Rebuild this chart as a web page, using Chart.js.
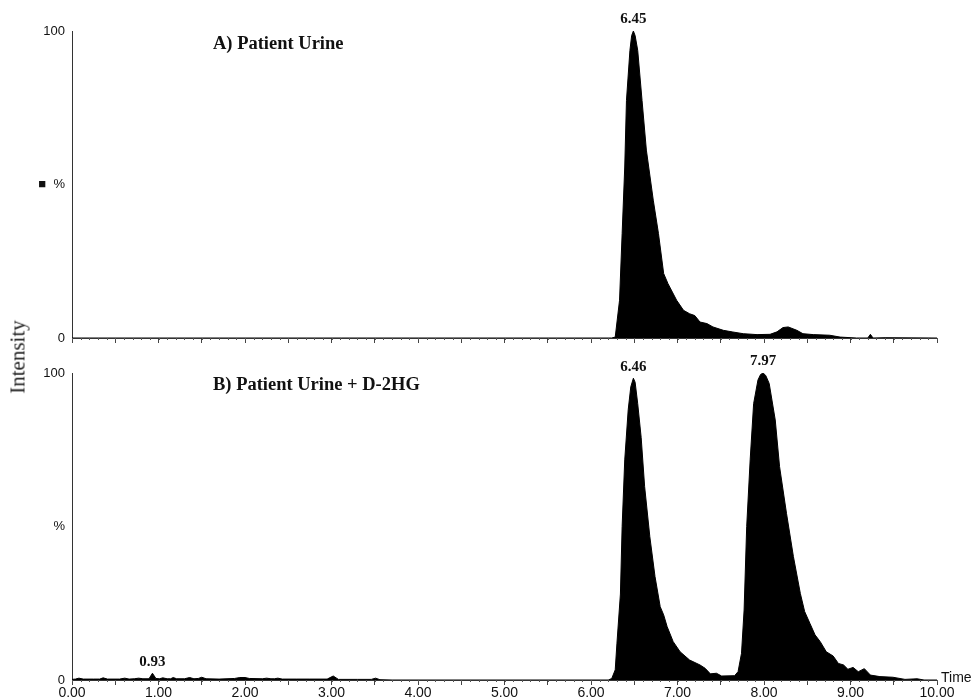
<!DOCTYPE html>
<html><head><meta charset="utf-8">
<script src="https://cdn.jsdelivr.net/npm/chart.js@4"></script>
<style>
html,body{margin:0;padding:0;background:#fff;}
#wrap{position:relative;width:975px;height:698px;overflow:hidden;background:#fff;}
canvas{position:absolute;left:0;}
#ylab{position:absolute;left:18px;top:357px;transform:translate(-50%,-50%) rotate(-90deg);font-family:"Liberation Serif","Times New Roman",serif;font-size:21px;color:#222;white-space:nowrap;}
</style></head>
<body><div id="wrap">
<canvas id="cA" width="975" height="355" style="top:0"></canvas>
<canvas id="cB" width="975" height="343" style="top:355px"></canvas>
<div id="ylab">Intensity</div>
</div>
<script>
// ---- data ----
const TITLE_A = 'A) Patient Urine';
const TITLE_B = 'B) Patient Urine + D-2HG';
const X_LABEL = 'Time';
const Y_TICKS = [0, 50, 100];
const Y_LABELS_A = ['0', '\u25A0  %', '100'];
const Y_LABELS_B = ['0', '%', '100'];
const PEAK_LABELS_A = ['6.45'];
const PEAK_LABELS_B = ['0.93', '6.46', '7.97'];

const TIME_A = [0.00, 6.24, 6.28, 6.33, 6.36, 6.39, 6.41, 6.45, 6.47, 6.49,
  6.51, 6.54, 6.59, 6.64, 6.72, 6.78, 6.84, 6.89, 6.99, 7.07,
  7.14, 7.20, 7.26, 7.34, 7.41, 7.53, 7.64, 7.76, 7.92, 8.07,
  8.15, 8.22, 8.28, 8.38, 8.45, 8.57, 8.76, 8.88, 9.07, 9.20,
  9.23, 9.26, 9.40, 10.00];
const INT_A = [0, 0, 0.3, 12.3, 34, 55.7, 77.4, 93.7, 98.5, 100,
  98.5, 93.7, 77.4, 61.2, 44.9, 34, 21, 17.7, 12.3, 9,
  7.9, 7.3, 5.2, 4.7, 3.6, 2.5, 1.95, 1.4, 1.1, 1.2,
  2, 3.4, 3.6, 2.5, 1.4, 1.1, 0.9, 0.3, 0, 0,
  1.2, 0, 0.1, 0];

const TIME_B = [0.00, 0.04, 0.08, 0.13, 0.25, 0.32, 0.36, 0.41, 0.55, 0.61,
  0.66, 0.72, 0.77, 0.82, 0.89, 0.93, 0.97, 1.01, 1.05, 1.10,
  1.14, 1.17, 1.21, 1.30, 1.36, 1.41, 1.46, 1.50, 1.55, 1.70,
  1.88, 1.94, 2.00, 2.05, 2.20, 2.25, 2.30, 2.34, 2.38, 2.43,
  2.60, 2.75, 2.95, 3.02, 3.08, 3.30, 3.46, 3.51, 3.56, 3.70,
  6.20, 6.24, 6.28, 6.30, 6.34, 6.36, 6.39, 6.43, 6.46, 6.49,
  6.51, 6.54, 6.58, 6.62, 6.68, 6.74, 6.80, 6.84, 6.88, 6.95,
  7.03, 7.14, 7.26, 7.32, 7.38, 7.45, 7.51, 7.66, 7.70, 7.74,
  7.77, 7.80, 7.84, 7.88, 7.93, 7.96, 7.99, 8.02, 8.06, 8.13,
  8.18, 8.26, 8.34, 8.42, 8.47, 8.53, 8.59, 8.65, 8.72, 8.80,
  8.86, 8.92, 8.97, 9.03, 9.09, 9.16, 9.23, 9.34, 9.49, 9.63,
  9.77, 9.85, 10.00];
const INT_B = [0.2, 0.3, 0.6, 0.3, 0.3, 0.3, 0.7, 0.3, 0.3, 0.6,
  0.3, 0.4, 0.6, 0.4, 0.4, 2.2, 0.5, 0.4, 0.7, 0.4,
  0.4, 0.8, 0.4, 0.4, 0.8, 0.4, 0.5, 0.9, 0.4, 0.3,
  0.5, 0.8, 0.8, 0.5, 0.4, 0.6, 0.4, 0.4, 0.6, 0.3,
  0.3, 0.3, 0.3, 1.3, 0.2, 0.2, 0.2, 0.6, 0.1, 0,
  0, 0.5, 3.3, 12, 28, 50, 71.7, 88, 95.5, 98.3,
  97, 90, 79, 63, 46.7, 33.7, 23.9, 21.2, 17.4, 12.5,
  9.2, 6.5, 4.9, 3.8, 2.0, 2.2, 1.3, 1.4, 2.7, 8.7,
  22.8, 50, 71.7, 90, 97.7, 99.5, 100, 99.2, 96.6, 84.7,
  69.5, 54.3, 40.2, 28.2, 22.3, 18.5, 14.7, 12.5, 9.2, 7.8,
  5.4, 4.9, 3.5, 4.1, 2.7, 3.7, 1.6, 1.1, 0.9, 0.2,
  0.4, 0, 0];

// ---- chart building ----
const SANS = '"Liberation Sans", Arial, sans-serif';
const SERIF = '"Liberation Serif", "Times New Roman", serif';

function pts(t, v) { return t.map((x, i) => ({x: x, y: v[i]})); }

function overlayPlugin(title, titleY, peaks, showTime) {
  return {
    id: 'overlay',
    afterDraw(chart) {
      const ctx = chart.ctx, xs = chart.scales.x, ys = chart.scales.y, ca = chart.chartArea;
      ctx.save();
      // minor ticks every 0.1
      ctx.strokeStyle = '#555'; ctx.lineWidth = 1;
      for (let k = 0; k <= 100; k++) {
        const px = Math.round(xs.getPixelForValue(k / 10)) + 0.5;
        ctx.beginPath(); ctx.moveTo(px, ca.bottom); ctx.lineTo(px, ca.bottom + 2); ctx.stroke();
      }
      // panel title
      ctx.fillStyle = '#111';
      ctx.font = 'bold 18.5px ' + SERIF;
      ctx.textAlign = 'left'; ctx.textBaseline = 'middle';
      ctx.fillText(title, ca.left + 141, titleY);
      // peak labels, positioned on data maxima
      const data = chart.data.datasets[0].data;
      ctx.font = 'bold 15px ' + SERIF;
      ctx.textAlign = 'center'; ctx.textBaseline = 'bottom';
      peaks.forEach(lbl => {
        const t = parseFloat(lbl);
        let best = null;
        data.forEach(p => { if (Math.abs(p.x - t) <= 0.1 && (!best || p.y > best.y)) best = p; });
        if (best) ctx.fillText(lbl, xs.getPixelForValue(best.x), ys.getPixelForValue(best.y) - 4);
      });
      if (showTime) {
        ctx.font = '14px ' + SANS;
        ctx.textAlign = 'left'; ctx.textBaseline = 'middle';
        ctx.fillText(X_LABEL, ca.right + 4, ca.bottom - 2);
      }
      ctx.restore();
    }
  };
}

function makeChart(id, t, v, yLabels, title, titleY, peaks, showXLabels, padTop, xAxisH) {
  return new Chart(document.getElementById(id), {
    type: 'line',
    data: { datasets: [{
      data: pts(t, v),
      borderColor: '#000', borderWidth: 1,
      backgroundColor: '#000', fill: 'origin',
      pointRadius: 0, tension: 0
    }]},
    options: {
      responsive: false, animation: false,
      layout: { padding: { top: padTop, right: 38, left: 0, bottom: 0 } },
      plugins: { legend: { display: false }, tooltip: { enabled: false } },
      scales: {
        x: {
          type: 'linear', min: 0, max: 10,
          afterFit: s => { s.height = xAxisH; },
          ticks: {
            stepSize: 0.5, autoSkip: false, maxRotation: 0, minRotation: 0, padding: 0,
            color: '#111', font: { family: SANS, size: 14 },
            callback: val => (showXLabels && Math.abs(val - Math.round(val)) < 1e-6) ? Number(val).toFixed(2) : ''
          },
          grid: { display: true, drawOnChartArea: false, drawTicks: true, tickLength: 5, tickColor: '#444' },
          border: { display: true, color: '#333', width: 1 }
        },
        y: {
          min: 0, max: 100,
          afterFit: s => { s.width = 72; },
          afterBuildTicks: s => { s.ticks = Y_TICKS.map(val => ({ value: val })); },
          ticks: {
            padding: 7, color: '#111', font: { family: SANS, size: 13 },
            callback: val => yLabels[Y_TICKS.indexOf(val)]
          },
          grid: { display: false, drawTicks: false },
          border: { display: true, color: '#333', width: 1 }
        }
      }
    },
    plugins: [overlayPlugin(title, titleY, peaks, showXLabels)]
  });
}

makeChart('cA', TIME_A, INT_A, Y_LABELS_A, TITLE_A, 44, PEAK_LABELS_A, false, 31, 17);
makeChart('cB', TIME_B, INT_B, Y_LABELS_B, TITLE_B, 30, PEAK_LABELS_B, true, 18, 18);
</script>
</body></html>
